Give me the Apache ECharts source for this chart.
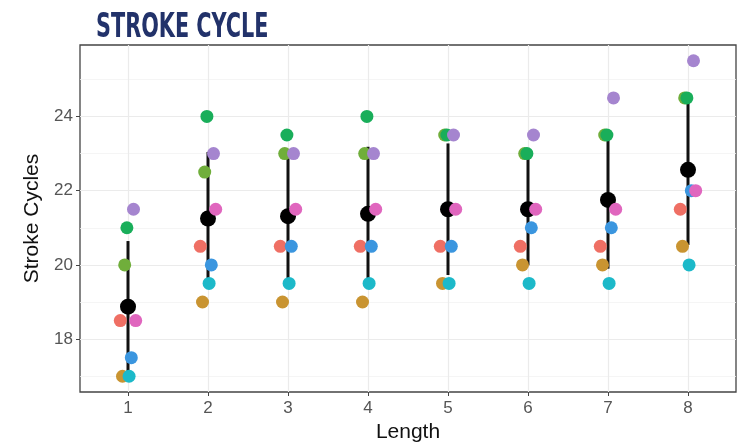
<!DOCTYPE html>
<html>
<head>
<meta charset="utf-8">
<script src="https://cdn.jsdelivr.net/npm/echarts@6/dist/echarts.min.js"></script>
<style>
  html, body { margin: 0; padding: 0; background: #fff; }
  #chart { width: 751px; height: 445px; }
</style>
</head>
<body>
<div id="chart"></div>
<script>
// Stroke cycles per length, one value per swimmer (eight swimmers)
const lengths = [1, 2, 3, 4, 5, 6, 7, 8];
const swimmers = ['S1', 'S2', 'S3', 'S4', 'S5', 'S6', 'S7', 'S8'];
const swimmerColors = ['#EF6F64', '#C99431', '#70AE3B', '#19AE5A', '#1CB9C9', '#3B96DF', '#A585CF', '#E066BE'];

const s1 = [18.5, 20.5, 20.5, 20.5, 20.5, 20.5, 20.5, 21.5];
const s2 = [17.0, 19.0, 19.0, 19.0, 19.5, 20.0, 20.0, 20.5];
const s3 = [20.0, 22.5, 23.0, 23.0, 23.5, 23.0, 23.5, 24.5];
const s4 = [21.0, 24.0, 23.5, 24.0, 23.5, 23.0, 23.5, 24.5];
const s5 = [17.0, 19.5, 19.5, 19.5, 19.5, 19.5, 19.5, 20.0];
const s6 = [17.5, 20.0, 20.5, 20.5, 20.5, 21.0, 21.0, 22.0];
const s7 = [21.5, 23.0, 23.0, 23.0, 23.5, 23.5, 24.5, 25.5];
const s8 = [18.5, 21.5, 21.5, 21.5, 21.5, 21.5, 21.5, 22.0];
const swimmerValues = [s1, s2, s3, s4, s5, s6, s7, s8];

const yTicks = [18, 20, 22, 24];
const yMinorTicks = [17, 19, 21, 23, 25];

// Mean and sample standard deviation per length
const means = lengths.map((_, i) => swimmerValues.reduce((a, s) => a + s[i], 0) / swimmerValues.length);
const sds = lengths.map((_, i) => {
  const m = means[i];
  const ss = swimmerValues.reduce((a, s) => a + (s[i] - m) * (s[i] - m), 0);
  return Math.sqrt(ss / (swimmerValues.length - 1));
});

// Points of the same length are dodged side by side
const dodgeWidth = 0.22;
const dodgeStep = dodgeWidth / swimmers.length;
const dodge = (g) => (g - (swimmers.length - 1) / 2) * dodgeStep;

const yMin = 16.575, yMax = 25.925;

const swimmerSeries = swimmers.map((name, g) => ({
  name: name,
  type: 'scatter',
  symbolSize: 13,
  z: 4,
  itemStyle: { color: swimmerColors[g], opacity: 1 },
  emphasis: { disabled: true },
  data: lengths.map((len, i) => [len + dodge(g), swimmerValues[g][i]])
}));

const chart = echarts.init(document.getElementById('chart'), null, { renderer: 'canvas' });

chart.setOption({
  animation: false,
  backgroundColor: '#ffffff',
  graphic: [{
    type: 'text',
    left: 96,
    top: 12,
    scaleX: 0.70,
    style: {
      text: 'STROKE CYCLE',
      font: 'bold 33px "Liberation Sans Narrow", "DejaVu Sans Condensed", sans-serif',
      fill: '#22326A'
    }
  }],
  grid: {
    left: 80, top: 45, width: 656, height: 347,
    outerBoundsMode: 'none',
    show: true, borderColor: '#444444', borderWidth: 1.3, backgroundColor: 'transparent'
  },
  xAxis: [{
    type: 'value',
    min: 0.4, max: 8.6,
    name: 'Length',
    nameLocation: 'middle',
    nameGap: 25,
    nameTextStyle: { color: '#111', fontSize: 21, fontFamily: 'Liberation Sans' },
    axisLine: { show: false },
    axisTick: { show: true, length: 4, lineStyle: { color: '#444' }, customValues: lengths },
    axisLabel: { color: '#555', fontSize: 17, margin: 8, fontFamily: 'Liberation Sans', customValues: lengths },
    splitLine: { show: true, lineStyle: { color: '#EBEBEB', width: 1.2 } }
  }],
  yAxis: [{
    type: 'value',
    min: yMin, max: yMax,
    name: 'Stroke Cycles',
    nameLocation: 'middle',
    nameGap: 36,
    nameTextStyle: { color: '#111', fontSize: 21, fontFamily: 'Liberation Sans' },
    axisLine: { show: false },
    axisTick: { show: true, length: 4, lineStyle: { color: '#444' }, customValues: yTicks },
    axisLabel: { color: '#555', fontSize: 17, margin: 7, fontFamily: 'Liberation Sans', customValues: yTicks },
    splitLine: { show: true, lineStyle: { color: '#EBEBEB', width: 1.2 } }
  }, {
    type: 'value',
    min: yMin, max: yMax,
    position: 'left',
    axisLine: { show: false },
    axisTick: { show: false, customValues: yMinorTicks },
    axisLabel: { show: false, customValues: yMinorTicks },
    splitLine: { show: true, lineStyle: { color: '#F2F2F2', width: 0.8 } }
  }],
  series: [{
    name: 'range',
    type: 'custom',
    z: 2,
    silent: true,
    data: lengths.map((len, i) => [len, means[i] - sds[i], means[i] + sds[i]]),
    renderItem: function (params, api) {
      const a = api.coord([api.value(0), api.value(1)]);
      const b = api.coord([api.value(0), api.value(2)]);
      return {
        type: 'line',
        shape: { x1: a[0], y1: a[1], x2: b[0], y2: b[1] },
        style: { stroke: '#111', lineWidth: 3 }
      };
    }
  }, {
    name: 'mean',
    type: 'scatter',
    z: 3,
    symbolSize: 16,
    itemStyle: { color: '#000', opacity: 1 },
    data: lengths.map((len, i) => [len, means[i]])
  }].concat(swimmerSeries)
});
</script>
</body>
</html>
